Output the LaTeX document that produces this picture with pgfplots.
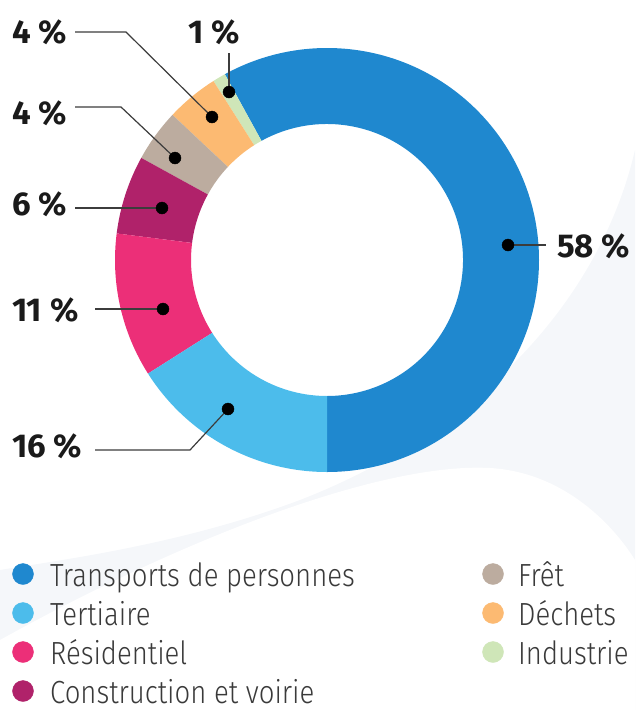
\documentclass[border=0pt]{standalone}
\usepackage{pgfplots}
\pgfplotsset{compat=1.18}
\usepackage{fontspec}
\setmainfont{Fira Sans}[UprightFont=* Light, BoldFont=* SemiBold]
\newfontfamily\legfont{Fira Sans}[UprightFont=* Light, FakeStretch=0.86]
\newfontfamily\labfont{Fira Sans}[UprightFont=* Bold]
\definecolor{cTrans}{HTML}{1F88CF}
\definecolor{cTert}{HTML}{4CBCEB}
\definecolor{cRes}{HTML}{EC2F78}
\definecolor{cCons}{HTML}{B0226A}
\definecolor{cFret}{HTML}{BCAC9F}
\definecolor{cDech}{HTML}{FCBA72}
\definecolor{cInd}{HTML}{CFE6B8}
\definecolor{bgc}{HTML}{F5F7FA}
\definecolor{txt}{HTML}{1A1A1A}
\definecolor{legtxt}{HTML}{3A3A3A}
% wedge from cumulative percent #1 to #2
\newcommand\donutwedge[3]{%
  \fill[#3] (axis cs:327,260) ++({-90+3.6*#1}:212pt)
    arc[start angle={-90+3.6*#1}, end angle={-90+3.6*#2}, radius=212pt]
    -- ++({90+3.6*#2}:76pt)
    arc[start angle={-90+3.6*#2}, end angle={-90+3.6*#1}, radius=136pt] -- cycle;}
\begin{document}
\begin{tikzpicture}
\begin{axis}[x=1pt, y=1pt, xmin=0, xmax=635, ymin=0, ymax=710, y dir=reverse,
  hide axis, clip=false, scale only axis]
% faint background
\fill[bgc] (axis cs:635,150) .. controls (axis cs:600,300) and (axis cs:480,430) .. (axis cs:300,500)
  .. controls (axis cs:180,545) and (axis cs:60,560) .. (axis cs:0,570) -- (axis cs:0,710) -- (axis cs:635,710) -- cycle;
\fill[white] (axis cs:0,710) -- (axis cs:0,640) .. controls (axis cs:180,540) and (axis cs:380,462) .. (axis cs:490,468)
  .. controls (axis cs:560,472) and (axis cs:610,520) .. (axis cs:635,560) -- (axis cs:635,710) -- cycle;
% donut: cumulative percentages 58, 1, 4, 4, 6, 11, 16
\donutwedge{0}{58}{cTrans}
\donutwedge{58}{59}{cInd}
\donutwedge{59}{63}{cDech}
\donutwedge{63}{67}{cFret}
\donutwedge{67}{73}{cCons}
\donutwedge{73}{84}{cRes}
\donutwedge{84}{100}{cTert}
% leader lines
\draw[txt!85, line width=1.2pt] (axis cs:508,245) -- (axis cs:546,245);
\draw[txt!85, line width=1.2pt] (axis cs:229,92) -- (axis cs:229,53);
\draw[txt!85, line width=1.2pt] (axis cs:212,117) -- (axis cs:126,32) -- (axis cs:75,32);
\draw[txt!85, line width=1.2pt] (axis cs:175,158) -- (axis cs:121,107) -- (axis cs:75,107);
\draw[txt!85, line width=1.2pt] (axis cs:162,208) -- (axis cs:75,208);
\draw[txt!85, line width=1.2pt] (axis cs:163,309) -- (axis cs:95,309);
\draw[txt!85, line width=1.2pt] (axis cs:228,409) -- (axis cs:190,450) -- (axis cs:95,450);
\addplot[only marks, mark=*, mark size=6pt, color=black] coordinates {
 (508,245) (229,92) (212,117) (175,158) (162,208) (163,309) (228,409)};
% labels
\begin{scope}[every node/.style={inner sep=0pt, anchor=base west, text=txt, font=\labfont\fontsize{33}{33}\selectfont}]
\node at (axis cs:557,257) {58 \%};
\node at (axis cs:12,43) {4 \%};
\node at (axis cs:188,43) {1 \%};
\node at (axis cs:12,124) {4 \%};
\node at (axis cs:12,215) {6 \%};
\node at (axis cs:12,321) {11 \%};
\node at (axis cs:12,457) {16 \%};
\end{scope}
% legend
\addplot[only marks, mark=*, mark size=10.5pt, color=cTrans] coordinates {(23,574)};
\addplot[only marks, mark=*, mark size=10.5pt, color=cTert] coordinates {(23,613)};
\addplot[only marks, mark=*, mark size=10.5pt, color=cRes] coordinates {(23,652)};
\addplot[only marks, mark=*, mark size=10.5pt, color=cCons] coordinates {(23,691)};
\addplot[only marks, mark=*, mark size=10.5pt, color=cFret] coordinates {(493,574)};
\addplot[only marks, mark=*, mark size=10.5pt, color=cDech] coordinates {(493,613)};
\addplot[only marks, mark=*, mark size=10.5pt, color=cInd] coordinates {(493,652)};
\begin{scope}[every node/.style={inner sep=0pt, anchor=base west, text=legtxt, font=\legfont\fontsize{32}{32}\selectfont}]
\node at (axis cs:50,586) {Transports de personnes};
\node at (axis cs:50,625) {Tertiaire};
\node at (axis cs:50,664) {Résidentiel};
\node at (axis cs:50,703) {Construction et voirie};
\node at (axis cs:518,586) {Frêt};
\node at (axis cs:518,625) {Déchets};
\node at (axis cs:518,664) {Industrie};
\end{scope}
\end{axis}
\pgfresetboundingbox
\path[use as bounding box] (current axis.south west) rectangle (current axis.north east);
\end{tikzpicture}
\end{document}
